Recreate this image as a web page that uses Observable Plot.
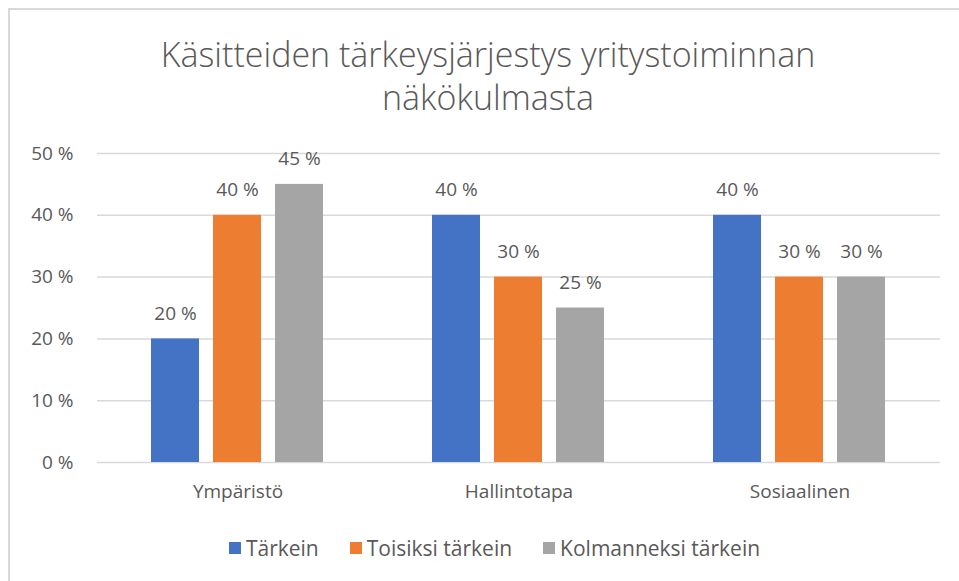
<!DOCTYPE html>
<html>
<head>
<meta charset="utf-8">
<script src="https://cdn.jsdelivr.net/npm/d3@7"></script>
<script src="https://cdn.jsdelivr.net/npm/@observablehq/plot@0.6"></script>
<style>
  html, body { margin: 0; padding: 0; background: #fff; }
  #page { position: relative; width: 959px; height: 581px; overflow: hidden; font-family: "Open Sans", sans-serif; }
  #frame { position: absolute; left: 8px; top: 8px; right: 0; bottom: 0; border-top: 2px solid #d9d9d9; border-left: 2px solid #d9d9d9; }
  #title { position: absolute; left: 0; width: 976px; top: 33px; text-align: center; font-size: 34px; line-height: 43px; font-weight: 300; color: #595959; }
  #chart { position: absolute; left: 0; top: 130px; }
  #legend { position: absolute; left: 0; width: 1020px; top: 531px; display: flex; justify-content: center; }
  .lg-swatches { font-family: "Open Sans", sans-serif !important; font-size: 21px !important; color: #595959 !important; }
  .lg-swatch { margin-right: 31px !important; }
  .lg-swatch svg { margin-right: 5px !important; }
</style>
</head>
<body>
<div id="page">
  <div id="frame"></div>
  <div id="title">Käsitteiden tärkeysjärjestys yritystoiminnan<br>näkökulmasta</div>
  <div id="chart"></div>
  <div id="legend"></div>
</div>
<script>
const categories = ["Ympäristö", "Hallintotapa", "Sosiaalinen"];
const series = ["Tärkein", "Toisiksi tärkein", "Kolmanneksi tärkein"];
const tarkein = [20, 40, 40];
const toisiksiTarkein = [40, 30, 30];
const kolmanneksiTarkein = [45, 25, 30];
const yTicks = [0, 10, 20, 30, 40, 50];
const colors = ["#4472C4", "#ED7D31", "#A5A5A5"];

const valuesBySeries = [tarkein, toisiksiTarkein, kolmanneksiTarkein];
const data = [];
categories.forEach((c, i) => {
  series.forEach((s, j) => {
    data.push({category: c, series: s, value: valuesBySeries[j][i]});
  });
});

const chart = Plot.plot({
  width: 959,
  height: 380,
  marginLeft: 97,
  marginRight: 19,
  marginTop: 23,
  marginBottom: 48,
  style: {fontFamily: "Open Sans, sans-serif", fontSize: "19px", color: "#595959", background: "transparent"},
  fx: {domain: categories, padding: 0, axis: "bottom", tickSize: 0, tickPadding: 22, label: null},
  x: {domain: series, axis: null, paddingInner: 0.218, paddingOuter: 0.87},
  y: {domain: [0, 50], ticks: yTicks, tickFormat: d => d + " %", tickSize: 0, tickPadding: 24, label: null},
  color: {domain: series, range: colors},
  marks: [
    Plot.gridY(yTicks, {stroke: "#d9d9d9", strokeOpacity: 1, strokeWidth: 1.5}),
    Plot.barY(data, {fx: "category", x: "series", y: "value", fill: "series"}),
    Plot.text(data, {fx: "category", x: "series", y: "value", text: d => d.value + " %", dy: -25, fill: "#595959", fontSize: 19})
  ]
});
document.getElementById("chart").appendChild(chart);

const legend = Plot.legend({
  color: {type: "ordinal", domain: series, range: colors},
  swatchSize: 12,
  className: "lg"
});
document.getElementById("legend").appendChild(legend);
</script>
</body>
</html>
